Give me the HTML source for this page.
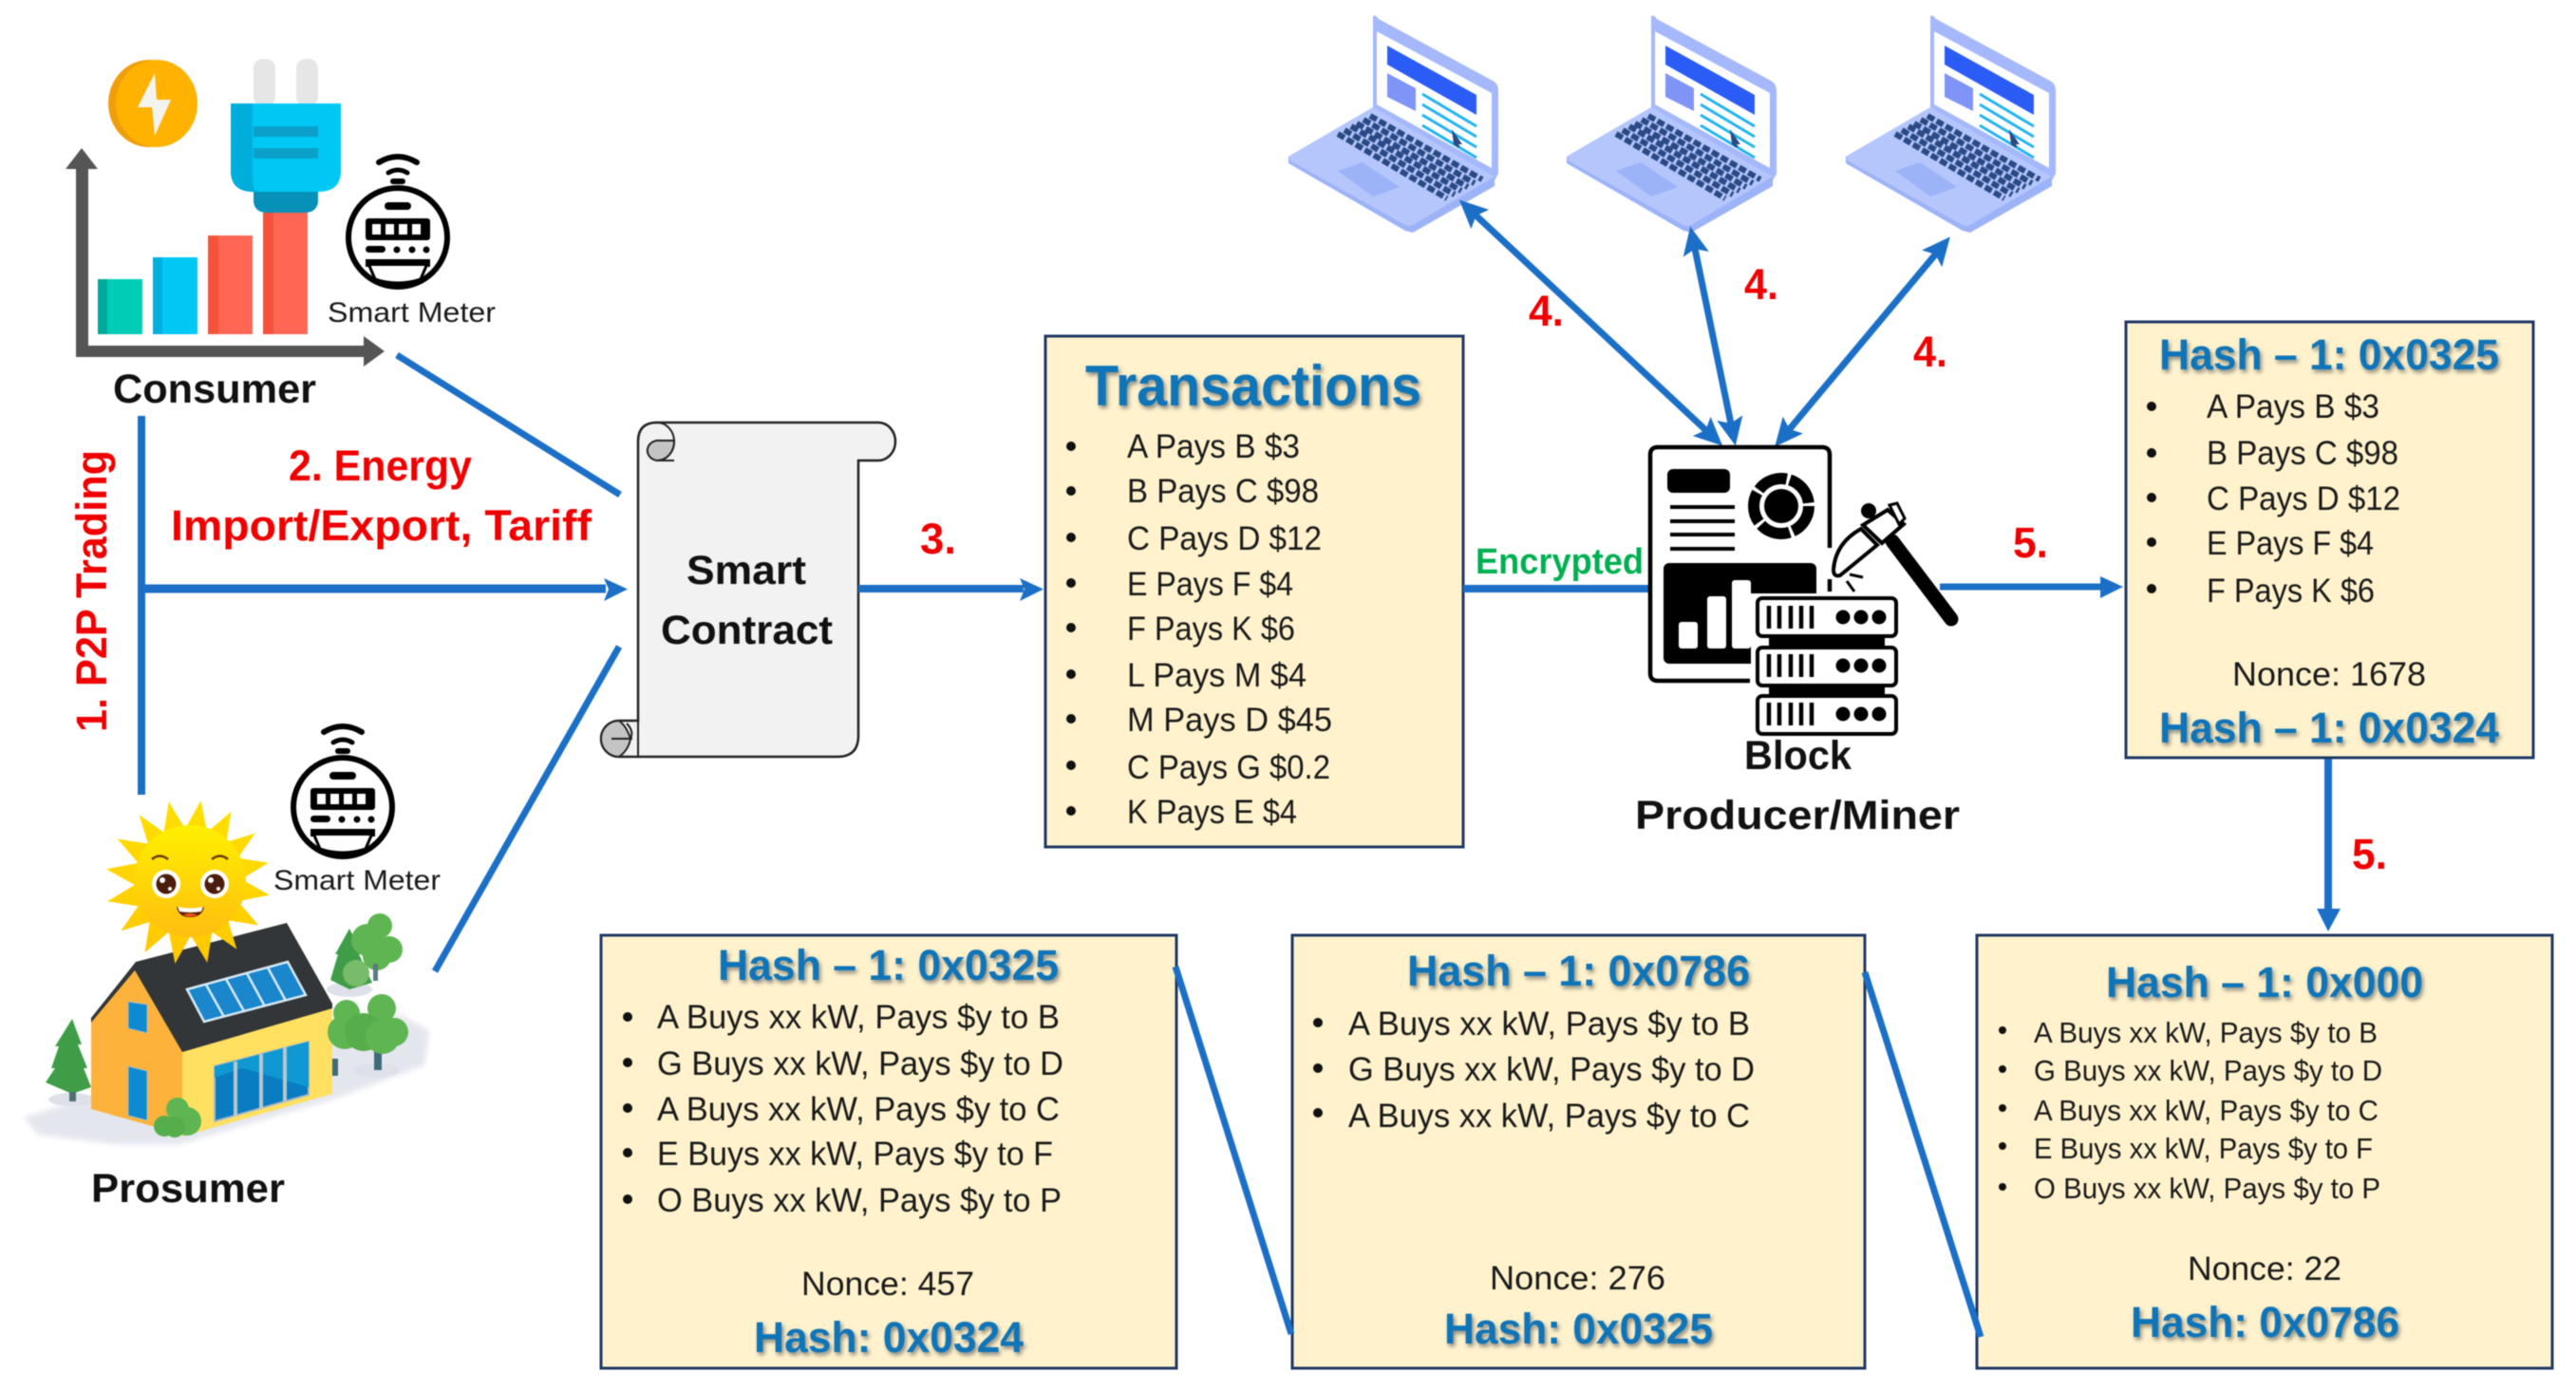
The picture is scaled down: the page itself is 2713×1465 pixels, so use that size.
<!DOCTYPE html>
<html>
<head>
<meta charset="utf-8">
<style>
html,body{margin:0;padding:0;background:#fff;width:2713px;height:1465px;overflow:hidden}
svg{display:block;position:absolute;left:0;top:0;filter:blur(.6px)}
text{font-family:"Liberation Sans",sans-serif;fill:#111}
.b{font-weight:bold;font-size:43px}
.r{font-weight:bold;fill:#f00000;font-size:45px}
.t{font-weight:bold;fill:#0f75b8;font-size:45px;filter:drop-shadow(2px 3px 2px #8a8a80)}
.k{font-size:35px;fill:#1a1a1a}
.s{font-size:31px;fill:#1a1a1a}
.m{font-size:30px;fill:#1a1a1a}
.box{fill:#fff2cc;stroke:#1f3864;stroke-width:3}
.ln{stroke:#1b6fc6;fill:none}
</style>
</head>
<body>
<svg width="2713" height="1465" viewBox="0 0 2713 1465" xmlns="http://www.w3.org/2000/svg">
<defs>
<marker id="ah" markerUnits="userSpaceOnUse" markerWidth="30" markerHeight="30" viewBox="0 0 26 26" refX="14" refY="13" orient="auto-start-reverse">
<path d="M0,1 L26,13 L0,25 L5,13 z" fill="#1b6fc6"/>
</marker>
<filter id="sb"><feGaussianBlur stdDeviation="3"/></filter>
<linearGradient id="sf" x1="0" y1="0" x2="0" y2="1"><stop offset="0" stop-color="#fff000"/><stop offset="1" stop-color="#ffbe10"/></linearGradient>
<linearGradient id="sr" x1="0" y1="0" x2="0" y2="1"><stop offset="0" stop-color="#ffe000"/><stop offset="1" stop-color="#ffc800"/></linearGradient>
<g id="meter">
<path d="M-20,-79 Q0,-91 20,-79" fill="none" stroke="#000" stroke-width="6" stroke-linecap="round"/>
<path d="M-10,-68 Q0,-74 10,-68" fill="none" stroke="#000" stroke-width="5" stroke-linecap="round"/>
<rect x="-8" y="-62" width="16" height="6" rx="3" fill="#000"/>
<ellipse cx="0" cy="0" rx="52" ry="52" fill="#fff" stroke="#000" stroke-width="6"/>
<rect x="-14" y="-37" width="28" height="8" rx="4" fill="#000"/>
<rect x="-34" y="-20" width="68" height="23" rx="3" fill="#000"/>
<rect x="-27" y="-14" width="9" height="11" fill="#fff"/><rect x="-13" y="-14" width="9" height="11" fill="#fff"/><rect x="1" y="-14" width="9" height="11" fill="#fff"/><rect x="15" y="-14" width="9" height="11" fill="#fff"/>
<rect x="-34" y="9" width="21" height="7" rx="3.500" fill="#000"/>
<circle cx="-1" cy="13" r="3.500"/><circle cx="15" cy="13" r="3.500"/><circle cx="30" cy="13" r="3.500"/>
<path d="M-34,23 H34 V31 H-34 z" fill="#000"/>
<path d="M-30,30 L-24,44 Q0,52 24,44 L30,30" fill="#fff" stroke="#000" stroke-width="3"/>
</g>
<g id="lap">
<path d="M1446,17 Q1448,15 1452,20 L1572,85 Q1578,88 1578,96 L1578,183 L1574,190 L1446,113 z" fill="#a4b8fb"/>
<path d="M1450,33 L1571,98 L1571,177 L1450,110 z" fill="#fff"/>
<path d="M1461,48 L1555,100 L1555,121 L1461,68 z" fill="#2c5cf6"/>
<path d="M1461,77 L1491,93 L1491,117 L1461,102 z" fill="#7f94f6"/>
<path d="M1498,99 L1555,133 M1498,110 L1555,144 M1498,121 L1555,155" stroke="#22b4ee" stroke-width="3" fill="none"/>
<path d="M1498,132 L1555,166" stroke="#22b4ee" stroke-width="3" fill="none"/>
<path d="M1529,136 L1540,152 L1536,152 L1538,155 L1535,155 L1531,152 z" fill="#2b4a85"/>
<path d="M1446,113 L1574,186 L1574,196 L1488,245 L1480,243 L1357,172 L1357,165 z" fill="#9db3f8"/>
<path d="M1446,113 L1574,186 L1488,237 Q1484,239 1480,237 L1360,170 Q1356,167 1360,163 z" fill="#b4c6fc"/>
<path d="M1409,180 L1435,171 L1474,197 L1446,207 z" fill="#9db3f8"/>
<path d="M1443,122 L1561,189 M1436,126 L1553,193 M1429,130 L1546,197 M1423,133 L1539,201 M1416,137 L1532,205 M1409,141 L1524,209" stroke="#2b4a85" stroke-width="6" stroke-dasharray="8 3" fill="none"/>
</g>
</defs>

<!-- Consumer icon -->
<ellipse cx="157" cy="109" rx="43" ry="46" fill="#f09f0c"/>
<ellipse cx="165" cy="109" rx="43" ry="46" fill="#ffb300"/>
<path d="M163,77 L145,113 L160,113 L163,143 L180,105 L165,105 z" fill="#f3f3f0"/>
<rect x="267" y="62" width="23" height="50" rx="10" fill="#e6e6e6"/>
<rect x="312" y="62" width="23" height="50" rx="10" fill="#e6e6e6"/>
<path d="M243,109 H359 V180 Q359,202 335,202 V210 Q335,224 320,224 H282 Q267,224 267,210 V202 Q243,202 243,180 z" fill="#00c8f5"/>
<path d="M243,109 H266 V186 Q266,202 272,202 H335 V210 Q335,224 320,224 H282 Q267,224 267,210 V202 Q243,202 243,180 z" fill="#00aedb"/>
<path d="M267,202 H335 V210 Q335,224 320,224 H282 Q267,224 267,210 z" fill="#0790b8"/>
<rect x="267" y="133" width="68" height="11" fill="#0aa0ca"/><rect x="267" y="156" width="68" height="11" fill="#0aa0ca"/>
<rect x="103" y="294" width="47" height="58" fill="#00cdb5"/><rect x="103" y="294" width="10" height="58" fill="#00aa9a"/>
<rect x="161" y="271" width="47" height="81" fill="#00c8f5"/><rect x="161" y="271" width="10" height="81" fill="#00afdc"/>
<rect x="219" y="248" width="47" height="104" fill="#ff6754"/><rect x="219" y="248" width="11" height="104" fill="#f4523a"/>
<rect x="277" y="224" width="47" height="128" fill="#ff6754"/><rect x="277" y="224" width="11" height="128" fill="#f4523a"/>
<path d="M80,376 V178 H69 L86,156 L103,178 H93 V364 H383 V354 L405,370 L383,386 V376 z" fill="#555"/>
<use href="#meter" x="419" y="250"/>
<text x="345" y="339" class="m" textLength="177" lengthAdjust="spacingAndGlyphs">Smart Meter</text>
<text x="119" y="424" class="b" textLength="214" lengthAdjust="spacingAndGlyphs">Consumer</text>

<!-- Prosumer icon -->
<polygon points="25,1177 96,1155 350,1100 420,1068 452,1085 447,1122 350,1158 190,1205 120,1205 40,1195" fill="#e4e6ee" filter="url(#sb)"/>
<ellipse cx="75" cy="1158" rx="24" ry="7" fill="#dfe1ea"/>
<ellipse cx="368" cy="1042" rx="24" ry="8" fill="#dfe1ea"/>
<ellipse cx="397" cy="1127" rx="24" ry="8" fill="#dfe1ea"/>
<!-- left conifer -->
<path d="M76,1073 L86,1100 L82,1100 L92,1125 L88,1125 L96,1145 L76,1152 L48,1140 L58,1125 L54,1125 L62,1102 L58,1102 z" fill="#3f9d48"/>
<rect x="73" y="1150" width="7" height="10" fill="#4f7074"/>
<!-- house -->
<path d="M142,1022 L96,1075 V1168 L192,1195 V1103 z" fill="#fdb33b"/>
<path d="M192,1103 L350,1058 V1152 L223,1188 L192,1197 z" fill="#ffe060"/>
<path d="M143,1013 L302,972 L350,1057 V1062 L192,1108 L142,1022 L96,1077 V1072 z" fill="#333638"/>
<path d="M197,1042 L303,1013 L322,1048 L215,1076 z" fill="#1a86cc" stroke="#d6e9f6" stroke-width="2.500"/>
<path d="M217,1037 L236,1071 M238,1031 L257,1065 M260,1025 L279,1060 M282,1019 L301,1054" stroke="#d6e9f6" stroke-width="2.500"/>
<path d="M135,1055 L155,1058 V1088 L135,1083 z" fill="#0d8ad0" stroke="#a9b9c6"/>
<path d="M135,1123 L155,1128 V1180 L135,1175 z" fill="#0d8ad0" stroke="#a9b9c6"/>
<path d="M226,1123 L325,1097 V1153 L226,1181 z" fill="#0a7cc2" stroke="#a9b9c6" stroke-width="2"/>
<path d="M226,1123 L325,1097 V1145 L255,1125 L226,1135 z" fill="#0f98d2"/>
<path d="M248,1118 V1176 M275,1110 V1168 M300,1103 V1160" stroke="#b9c6ce" stroke-width="4"/>
<!-- right trees -->
<path d="M368,978 L382,1005 L378,1005 L392,1035 L368,1042 L348,1032 L356,1005 L353,1005 z" fill="#3f9d48"/>
<circle cx="400" cy="975" r="13" fill="#5fb552"/><circle cx="387" cy="990" r="17" fill="#5fb552"/><circle cx="410" cy="1000" r="14" fill="#5fb552"/><circle cx="397" cy="1007" r="15" fill="#5fb552"/>
<rect x="393" y="1015" width="5" height="18" fill="#5a7a80"/>
<circle cx="375" cy="1025" r="14" fill="#78bb6a"/>
<rect x="394" y="1105" width="8" height="22" fill="#3f6a78"/>
<circle cx="402" cy="1062" r="15" fill="#5fb552"/><circle cx="365" cy="1067" r="14" fill="#5fb552"/><circle cx="363" cy="1087" r="18" fill="#5fb552"/><circle cx="383" cy="1087" r="20" fill="#55ad4c"/><circle cx="415" cy="1087" r="15" fill="#5fb552"/><circle cx="403" cy="1092" r="18" fill="#5fb552"/>
<rect x="350" y="1115" width="6" height="18" fill="#3f6a78"/>
<!-- bush -->
<circle cx="187" cy="1168" r="12" fill="#5fb552"/><circle cx="173" cy="1186" r="11" fill="#55ad4c"/><circle cx="197" cy="1181" r="15" fill="#5fb552"/><circle cx="184" cy="1187" r="11" fill="#55ad4c"/>
<!-- sun -->
<g transform="translate(198,929) rotate(9)">
<polygon points="87,0 55,11.7 80.5,33.3 47.9,33.3 61.8,61.8 33.3,47.9 33.3,80.5 11.7,55 0,87 -11.7,55 -33.3,80.5 -33.3,47.9 -61.8,61.8 -47.9,33.3 -80.5,33.3 -55,11.7 -87,0 -55,-11.7 -80.5,-33.3 -47.9,-33.3 -61.8,-61.8 -33.3,-47.9 -33.3,-80.5 -11.7,-55 0,-87 11.7,-55 33.3,-80.5 33.3,-47.9 61.8,-61.8 47.9,-33.3 80.5,-33.3 55,-11.7" fill="url(#sr)"/>
</g>
<circle cx="200" cy="928" r="59" fill="url(#sf)"/>
<path d="M160,905 Q168,898 177,905 M223,905 Q232,898 240,905" stroke="#6a3a10" stroke-width="2.500" fill="none"/>
<circle cx="175" cy="931" r="15" fill="#fff"/><circle cx="175" cy="931" r="10.500" fill="#4b1d0d"/><circle cx="171" cy="927" r="3" fill="#fff"/><circle cx="179" cy="936" r="2" fill="#fff"/>
<circle cx="226" cy="931" r="15" fill="#fff"/><circle cx="226" cy="931" r="10.500" fill="#4b1d0d"/><circle cx="222" cy="927" r="3" fill="#fff"/><circle cx="230" cy="936" r="2" fill="#fff"/>
<path d="M186,955 Q200,958 215,955 Q213,966 200,966 Q188,966 186,955 z" fill="#5e2206"/>
<path d="M187,955 Q200,958 214,955 L212,960 Q200,962 189,960 z" fill="#fff"/>
<path d="M193,964 Q200,960 208,964 Q200,967 193,964 z" fill="#f2561d"/>
<use href="#meter" x="361" y="850"/>
<text x="288" y="937" class="m" textLength="176" lengthAdjust="spacingAndGlyphs">Smart Meter</text>
<text x="96" y="1266" class="b" textLength="204" lengthAdjust="spacingAndGlyphs">Prosumer</text>

<!-- left connectors -->
<path class="ln" stroke-width="7" d="M418,374 L653,521"/>
<path class="ln" stroke-width="8" d="M149,438 V837"/>
<path class="ln" stroke-width="9" d="M149,620 H638"/>
<polygon points="636,609 661,620.500 636,633 641,620.500" fill="#1b6fc6"/>
<path class="ln" stroke-width="7" d="M458,1023 L652,681"/>
<text x="304" y="506" class="r" textLength="193" lengthAdjust="spacingAndGlyphs">2. Energy</text>
<text x="180" y="569" class="r" textLength="443" lengthAdjust="spacingAndGlyphs">Import/Export, Tariff</text>
<text transform="translate(112,771) rotate(-90)" class="r" textLength="297" lengthAdjust="spacingAndGlyphs">1. P2P Trading</text>

<!-- Scroll -->
<path d="M672,465 Q672,445 692,445 H925 A18,20 0 0 1 925,485 H904 V775 Q904,797 882,797 H652 A19,19 0 0 1 652,759 H672 z" fill="#f2f2f2" stroke="#222" stroke-width="2.500"/>
<path d="M692,445 A18,20 0 0 1 692,485 H710" fill="none" stroke="#222" stroke-width="2"/>
<path d="M692,485 A11,10 0 0 1 695,464 H710 A18,20 0 0 1 692,485 z" fill="#c4c4c4" stroke="#222" stroke-width="2"/>
<path d="M652,759 A19,19 0 0 0 652,797 Q662,790 664,778 Q660,765 652,759 z" fill="#c4c4c4" stroke="#222" stroke-width="2"/>
<path d="M644,778 H666 M660,762 Q668,770 664,778" fill="none" stroke="#222" stroke-width="2"/>
<path d="M672,759 V797" stroke="#222" stroke-width="2"/>
<text x="723" y="615" class="b" textLength="126" lengthAdjust="spacingAndGlyphs">Smart</text>
<text x="696" y="678" class="b" textLength="181" lengthAdjust="spacingAndGlyphs">Contract</text>
<path class="ln" stroke-width="8" d="M904,620 H1078"/>
<polygon points="1074,609 1099,620.500 1074,633 1079,620.500" fill="#1b6fc6"/>
<text x="969" y="583" class="r" textLength="38" lengthAdjust="spacingAndGlyphs">3.</text>

<!-- Transactions box -->
<rect class="box" x="1101" y="354" width="440" height="538"/>
<text x="1143" y="427" class="t" style="font-size:60px" textLength="354" lengthAdjust="spacingAndGlyphs">Transactions</text>
<g fill="#111"><circle cx="1128" cy="470" r="5"/><circle cx="1128" cy="517" r="5"/><circle cx="1128" cy="566" r="5"/><circle cx="1128" cy="614" r="5"/><circle cx="1128" cy="661" r="5"/><circle cx="1128" cy="710" r="5"/><circle cx="1128" cy="757" r="5"/><circle cx="1128" cy="806" r="5"/><circle cx="1128" cy="854" r="5"/></g>
<text x="1187" y="482" class="k" textLength="182" lengthAdjust="spacingAndGlyphs">A Pays B $3</text>
<text x="1187" y="529" class="k" textLength="202" lengthAdjust="spacingAndGlyphs">B Pays C $98</text>
<text x="1187" y="579" class="k" textLength="205" lengthAdjust="spacingAndGlyphs">C Pays D $12</text>
<text x="1187" y="627" class="k" textLength="175" lengthAdjust="spacingAndGlyphs">E Pays F $4</text>
<text x="1187" y="674" class="k" textLength="177" lengthAdjust="spacingAndGlyphs">F Pays K $6</text>
<text x="1187" y="723" class="k" textLength="189" lengthAdjust="spacingAndGlyphs">L Pays M $4</text>
<text x="1187" y="770" class="k" textLength="216" lengthAdjust="spacingAndGlyphs">M Pays D $45</text>
<text x="1187" y="820" class="k" textLength="214" lengthAdjust="spacingAndGlyphs">C Pays G $0.2</text>
<text x="1187" y="867" class="k" textLength="179" lengthAdjust="spacingAndGlyphs">K Pays E $4</text>

<text x="1554" y="604" class="b" style="fill:#00b050;font-size:38px" textLength="177" lengthAdjust="spacingAndGlyphs">Encrypted</text>
<path class="ln" stroke-width="8" d="M1541,620 H1738"/>

<!-- Laptops -->
<use href="#lap"/>
<use href="#lap" x="293"/>
<use href="#lap" x="587"/>

<!-- Arrows 4 -->
<path class="ln" stroke-width="7" d="M1547,220 L1804,460" marker-start="url(#ah)" marker-end="url(#ah)"/>
<path class="ln" stroke-width="7" d="M1783,252 L1825,456" marker-start="url(#ah)" marker-end="url(#ah)"/>
<path class="ln" stroke-width="7" d="M2045,260 L1878,460" marker-start="url(#ah)" marker-end="url(#ah)"/>
<text x="1610" y="343" class="r" textLength="37" lengthAdjust="spacingAndGlyphs">4.</text>
<text x="1837" y="315" class="r" textLength="36" lengthAdjust="spacingAndGlyphs">4.</text>
<text x="2015" y="386" class="r" textLength="36" lengthAdjust="spacingAndGlyphs">4.</text>

<!-- Miner -->
<rect x="1738" y="471" width="189" height="246" rx="8" fill="#fff"/>
<path d="M1843,717 H1746 Q1738,717 1738,709 V479 Q1738,471 1746,471 H1919 Q1927,471 1927,479 V577 M1927,610 V623" fill="none" stroke="#000" stroke-width="4.500"/>
<rect x="1756" y="494" width="66" height="25" rx="6" fill="#000"/>
<circle cx="1876" cy="533" r="29" fill="none" stroke="#000" stroke-width="12" stroke-dasharray="33 3.400"/>
<circle cx="1876" cy="533" r="18" fill="#000"/>
<path d="M1759,534 H1827 M1759,549 H1827 M1759,563 H1827 M1759,578 H1827" stroke="#000" stroke-width="4"/>
<rect x="1752" y="593" width="161" height="106" rx="6" fill="#000"/>
<rect x="1768" y="655" width="20" height="28" rx="3" fill="#fff"/><rect x="1798" y="628" width="20" height="55" rx="3" fill="#fff"/><rect x="1824" y="611" width="20" height="72" rx="3" fill="#fff"/>
<rect x="1844" y="625" width="160" height="153" fill="#fff"/>
<path d="M1863,668 H1985 V684 H1863 z M1863,720 H1985 V734 H1863 z" fill="#000"/>
<rect x="1851" y="630" width="146" height="40" rx="5" fill="#fff" stroke="#000" stroke-width="4"/>
<rect x="1851" y="682" width="146" height="40" rx="5" fill="#fff" stroke="#000" stroke-width="4"/>
<rect x="1851" y="733" width="146" height="40" rx="5" fill="#fff" stroke="#000" stroke-width="4"/>
<path d="M1863,638 V662 M1874,638 V662 M1886,638 V662 M1897,638 V662 M1908,638 V662 M1863,689 V713 M1874,689 V713 M1886,689 V713 M1897,689 V713 M1908,689 V713 M1863,740 V764 M1874,740 V764 M1886,740 V764 M1897,740 V764 M1908,740 V764" stroke="#000" stroke-width="4.500"/>
<g fill="#000"><circle cx="1941" cy="650" r="7.500"/><circle cx="1960" cy="650" r="7.500"/><circle cx="1979" cy="650" r="7.500"/><circle cx="1941" cy="701" r="7.500"/><circle cx="1960" cy="701" r="7.500"/><circle cx="1979" cy="701" r="7.500"/><circle cx="1941" cy="752" r="7.500"/><circle cx="1960" cy="752" r="7.500"/><circle cx="1979" cy="752" r="7.500"/></g>
<path d="M1993,570 L2055,652" stroke="#000" stroke-width="15" stroke-linecap="round" fill="none"/>
<path d="M1960,557 Q1933,572 1931,600 Q1931,608 1938,606 L1977,574 z" fill="#fff" stroke="#000" stroke-width="4"/>
<path d="M1962,553 L1988,537 L2005,552 L1982,572 z" fill="#fff" stroke="#000" stroke-width="4"/>
<circle cx="1968" cy="538" r="8" fill="#000"/>
<path d="M1990,532 L1998,530 L2006,546 L2000,552 z" fill="#fff" stroke="#000" stroke-width="3"/>
<path d="M1948,605 L1962,608 M1945,612 L1953,623" stroke="#000" stroke-width="3"/>

<text x="1837" y="810" class="b" textLength="113" lengthAdjust="spacingAndGlyphs">Block</text>
<text x="1722" y="873" class="b" textLength="342" lengthAdjust="spacingAndGlyphs">Producer/Miner</text>

<!-- Arrows 5 -->
<path class="ln" stroke-width="7" d="M2043,618 H2216"/>
<polygon points="2212,607 2236,618 2212,630" fill="#1b6fc6"/>
<text x="2120" y="587" class="r" textLength="37" lengthAdjust="spacingAndGlyphs">5.</text>
<path class="ln" stroke-width="8" d="M2452,798 V962"/>
<polygon points="2440,957 2465,957 2452,981" fill="#1b6fc6"/>
<text x="2477" y="915" class="r" textLength="37" lengthAdjust="spacingAndGlyphs">5.</text>

<!-- Box 1 -->
<rect class="box" x="2239" y="339" width="429" height="459"/>
<text x="2274" y="389" class="t" textLength="358" lengthAdjust="spacingAndGlyphs">Hash – 1: 0x0325</text>
<g fill="#111"><circle cx="2266" cy="428" r="5"/><circle cx="2266" cy="477" r="5"/><circle cx="2266" cy="524" r="5"/><circle cx="2266" cy="571" r="5"/><circle cx="2266" cy="620" r="5"/></g>
<text x="2324" y="440" class="k" textLength="182" lengthAdjust="spacingAndGlyphs">A Pays B $3</text>
<text x="2324" y="489" class="k" textLength="202" lengthAdjust="spacingAndGlyphs">B Pays C $98</text>
<text x="2324" y="537" class="k" textLength="204" lengthAdjust="spacingAndGlyphs">C Pays D $12</text>
<text x="2324" y="584" class="k" textLength="176" lengthAdjust="spacingAndGlyphs">E Pays F $4</text>
<text x="2324" y="634" class="k" textLength="177" lengthAdjust="spacingAndGlyphs">F Pays K $6</text>
<text x="2351" y="722" class="k" textLength="204" lengthAdjust="spacingAndGlyphs">Nonce: 1678</text>
<text x="2274" y="782" class="t" textLength="358" lengthAdjust="spacingAndGlyphs">Hash – 1: 0x0324</text>

<!-- Box A -->
<rect class="box" x="633" y="985" width="606" height="456"/>
<text x="756" y="1032" class="t" textLength="359" lengthAdjust="spacingAndGlyphs">Hash – 1: 0x0325</text>
<g fill="#111"><circle cx="661" cy="1071" r="5"/><circle cx="661" cy="1119" r="5"/><circle cx="661" cy="1167" r="5"/><circle cx="661" cy="1214" r="5"/><circle cx="661" cy="1263" r="5"/></g>
<text x="692" y="1083" class="k" textLength="424" lengthAdjust="spacingAndGlyphs">A Buys xx kW, Pays $y to B</text>
<text x="692" y="1132" class="k" textLength="428" lengthAdjust="spacingAndGlyphs">G Buys xx kW, Pays $y to D</text>
<text x="692" y="1180" class="k" textLength="424" lengthAdjust="spacingAndGlyphs">A Buys xx kW, Pays $y to C</text>
<text x="692" y="1227" class="k" textLength="417" lengthAdjust="spacingAndGlyphs">E Buys xx kW, Pays $y to F</text>
<text x="692" y="1276" class="k" textLength="426" lengthAdjust="spacingAndGlyphs">O Buys xx kW, Pays $y to P</text>
<text x="844" y="1364" class="k" textLength="182" lengthAdjust="spacingAndGlyphs">Nonce: 457</text>
<text x="794" y="1424" class="t" textLength="284" lengthAdjust="spacingAndGlyphs">Hash: 0x0324</text>

<!-- Box B -->
<rect class="box" x="1361" y="985" width="603" height="456"/>
<text x="1482" y="1038" class="t" textLength="361" lengthAdjust="spacingAndGlyphs">Hash – 1: 0x0786</text>
<g fill="#111"><circle cx="1388" cy="1077" r="5"/><circle cx="1388" cy="1125" r="5"/><circle cx="1388" cy="1172" r="5"/></g>
<text x="1420" y="1090" class="k" textLength="423" lengthAdjust="spacingAndGlyphs">A Buys xx kW, Pays $y to B</text>
<text x="1420" y="1138" class="k" textLength="428" lengthAdjust="spacingAndGlyphs">G Buys xx kW, Pays $y to D</text>
<text x="1420" y="1187" class="k" textLength="423" lengthAdjust="spacingAndGlyphs">A Buys xx kW, Pays $y to C</text>
<text x="1569" y="1358" class="k" textLength="185" lengthAdjust="spacingAndGlyphs">Nonce: 276</text>
<text x="1521" y="1415" class="t" textLength="283" lengthAdjust="spacingAndGlyphs">Hash: 0x0325</text>

<!-- Box C -->
<rect class="box" x="2082" y="985" width="606" height="456"/>
<text x="2218" y="1050" class="t" textLength="334" lengthAdjust="spacingAndGlyphs">Hash – 1: 0x000</text>
<g fill="#111"><circle cx="2109" cy="1085" r="4"/><circle cx="2109" cy="1126" r="4"/><circle cx="2109" cy="1167" r="4"/><circle cx="2109" cy="1207" r="4"/><circle cx="2109" cy="1250" r="4"/></g>
<text x="2142" y="1098" class="s" textLength="362" lengthAdjust="spacingAndGlyphs">A Buys xx kW, Pays $y to B</text>
<text x="2142" y="1138" class="s" textLength="367" lengthAdjust="spacingAndGlyphs">G Buys xx kW, Pays $y to D</text>
<text x="2142" y="1180" class="s" textLength="363" lengthAdjust="spacingAndGlyphs">A Buys xx kW, Pays $y to C</text>
<text x="2142" y="1220" class="s" textLength="357" lengthAdjust="spacingAndGlyphs">E Buys xx kW, Pays $y to F</text>
<text x="2142" y="1262" class="s" textLength="365" lengthAdjust="spacingAndGlyphs">O Buys xx kW, Pays $y to P</text>
<text x="2304" y="1348" class="k" textLength="162" lengthAdjust="spacingAndGlyphs">Nonce: 22</text>
<text x="2244" y="1408" class="t" textLength="283" lengthAdjust="spacingAndGlyphs">Hash: 0x0786</text>

<!-- chain connectors -->
<path class="ln" stroke-width="7" d="M1238,1018 L1360,1405"/>
<path class="ln" stroke-width="7" d="M1964,1024 L2086,1408"/>
</svg>
</body>
</html>
